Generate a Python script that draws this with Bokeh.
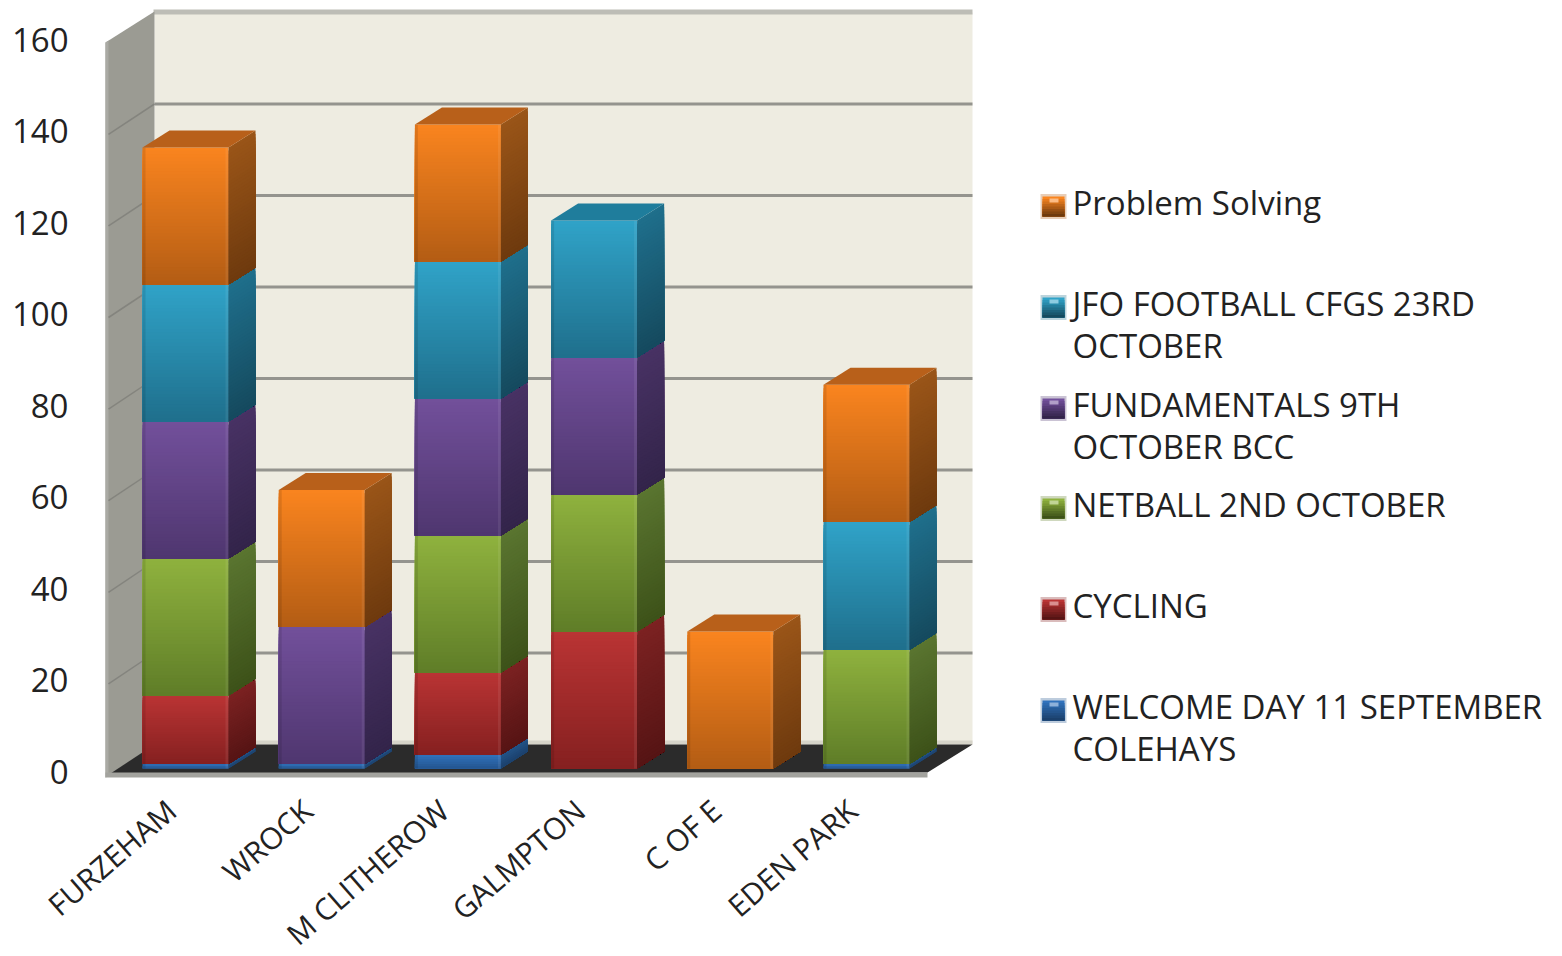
from bokeh.plotting import figure
from bokeh.models import Range1d, LinearAxis, FixedTicker
from bokeh.core.properties import value
from bokeh.embed import file_html
from bokeh.resources import INLINE
import math

categories = ["FURZEHAM", "WROCK", "M CLITHEROW", "GALMPTON", "C OF E", "EDEN PARK"]
welcome = [1, 1, 3, 0, 0, 1]
cycling = [15, 0, 18, 30, 0, 0]
netball = [30, 0, 30, 30, 0, 25]
fundamentals = [30, 30, 30, 30, 0, 0]
jfo = [30, 0, 30, 30, 0, 28]
problem = [30, 30, 30, 0, 30, 30]
y_ticks = [0, 20, 40, 60, 80, 100, 120, 140, 160]
series_names = ["WELCOME DAY 11 SEPTEMBER\nCOLEHAYS", "CYCLING", "NETBALL 2ND OCTOBER",
                "FUNDAMENTALS 9TH\nOCTOBER BCC", "JFO FOOTBALL CFGS 23RD\nOCTOBER", "Problem Solving"]
series_values = [welcome, cycling, netball, fundamentals, jfo, problem]
# (front top, front bottom, side top, side bottom, roof)
palette = [
    ("#3072bc", "#24558f", "#235488", "#1b406c", "#2a5f9c"),
    ("#ba3434", "#852020", "#7c2222", "#561414", "#8a2424"),
    ("#8fb23e", "#5f7d28", "#5a7530", "#3d5219", "#6a8a2c"),
    ("#72509b", "#4f366f", "#483264", "#33244a", "#553a78"),
    ("#30a3c8", "#1f6f8c", "#1f6f8c", "#154a5e", "#1f7d9c"),
    ("#fa851f", "#b35c14", "#9a5518", "#6e3a0e", "#b8601a"),
]

# Layout constants (reference pixels)
PX0, PXU = 185.0, 136.2     # category 0 centre, pixels per category
PY0, PYU = 768.0, 4.567     # value 0 baseline, pixels per value unit
BAR_W, DX, DY = 86, 27, 17  # bar front width and depth
FONT = value("Open Sans")
TEXT = "#222222"
FSIZE = "33px"

def X(px):
    return (px - PX0) / PXU

def Y(py):
    return (PY0 - py) / PYU

FL, FT, FB, FR = 100, 8, 780, 1562
p = figure(frame_width=FR - FL, frame_height=FB - FT, min_border_left=FL, min_border_top=FT,
           min_border_right=0, min_border_bottom=176, output_backend="svg", toolbar_location=None,
           tools="", x_range=Range1d(X(FL), X(FR)), y_range=Range1d(Y(FB), Y(FT)),
           y_axis_location=None, x_axis_location=None)
p.outline_line_color = None
p.grid.visible = False
p.background_fill_color = "white"

def poly(pts, color):
    p.patch([X(a) for a, b in pts], [Y(b) for a, b in pts], fill_color=color, line_color=None)

def hexrgb(c):
    return tuple(int(c[i:i + 2], 16) for i in (1, 3, 5))

def mix(c1, c2, t):
    a, b = hexrgb(c1), hexrgb(c2)
    return "#%02x%02x%02x" % tuple(round(a[i] + (b[i] - a[i]) * t) for i in range(3))

# Walls and floor
poly([(154, 12), (972, 12), (972, 744), (154, 744)], "#eeece1")
poly([(153, 9), (972, 9), (972, 14), (153, 14)], "#bdbdb6")
poly([(154, 740), (972, 740), (972, 744), (154, 744)], "#d6d4c9")
poly([(105, 42), (154, 11), (154, 745), (105, 777)], "#9b9b93")
poly([(105, 42), (108, 40), (108, 776), (105, 777)], "#aaaaa4")
for t in y_ticks[1:-1]:
    yb = 744 - t * 4.575
    yf = 775 - t * 4.58
    p.line([X(154), X(972)], [Y(yb), Y(yb)], line_color="#94948e", line_width=3)
    p.line([X(108), X(154)], [Y(yf), Y(yb)], line_color="#84847e", line_width=1.5)
poly([(110, 773), (154, 744), (972, 744), (927, 772)], "#2b2b2b")
poly([(105, 772), (927, 772), (927, 777), (105, 777)], "#a3a39e")

# Stacked 3D bars
for i, cat in enumerate(categories):
    cx = PX0 + i * PXU
    xl, xr = cx - BAR_W / 2, cx + BAR_W / 2
    base = 0
    top_color = None
    for s, vals in enumerate(series_values):
        v = vals[i]
        if v == 0:
            continue
        ft, fb, st, sb, roof = palette[s]
        n = max(2, min(40, 2 * v))
        for k in range(n):
            # each slice runs down to the segment's base; the next one paints over it
            t = k / n
            v_hi = base + v * (1 - t)
            front = mix(ft, fb, (k + 0.5) / n)
            side = mix(st, sb, (k + 0.5) / n)
            p.quad(left=X(xl), right=X(xr), bottom=base, top=v_hi, fill_color=front, line_color=None)
            p.patch([X(xr), X(xr + DX), X(xr + DX), X(xr)],
                    [base, base + DY / PYU, v_hi + DY / PYU, v_hi],
                    fill_color=side, line_color=None)
        base += v
        top_color = roof
    p.quad(left=X(xl), right=X(xl + 3), bottom=0, top=base, fill_color="black", fill_alpha=0.10, line_color=None)
    p.quad(left=X(xr - 3), right=X(xr), bottom=0, top=base, fill_color="white", fill_alpha=0.07, line_color=None)
    p.patch([X(xl), X(xl + DX), X(xr + DX), X(xr)],
            [base, base + DY / PYU, base + DY / PYU, base],
            fill_color=top_color, line_color=None)

# Legend
rows = [706, 605, 504, 404, 303, 202]
for s, name in enumerate(series_names):
    row = rows[s]
    ft, fb, st, sb, roof = palette[s]
    sy = row + 4
    p.quad(left=X(1040), right=X(1066), bottom=Y(sy + 12.5), top=Y(sy - 12.5),
           fill_color=mix(fb, "#ffffff", 0.7), line_color=None)
    for k in range(8):
        c = mix(ft, sb, k / 7)
        p.quad(left=X(1042), right=X(1064), bottom=Y(sy + 10), top=Y(sy - 10 + k * 2.5),
               fill_color=c, line_color=None)
    p.quad(left=X(1049), right=X(1058), bottom=Y(sy - 4), top=Y(sy - 8),
           fill_color=mix(ft, "#ffffff", 0.45), line_color=None)
    for j, line in enumerate(name.split("\n")):
        p.text([X(1072)], [Y(row + j * 42)], text=[line], text_font=FONT, text_font_size=FSIZE,
               text_color=TEXT, text_baseline="middle", text_align="left")

# Axes
p.extra_y_ranges = {"front": Range1d((771 - FB) / 4.572, (771 - FT) / 4.572)}
yaxis = LinearAxis(y_range_name="front", ticker=FixedTicker(ticks=y_ticks))
yaxis.axis_line_color = None
yaxis.major_tick_line_color = None
yaxis.minor_tick_line_color = None
yaxis.major_label_standoff = 26
yaxis.major_label_text_font = "Open Sans"
yaxis.major_label_text_font_size = FSIZE
yaxis.major_label_text_color = TEXT
p.add_layout(yaxis, "left")

LABEL_SHIFT = 14 / PXU
p.extra_x_ranges = {"labels": Range1d(X(FL) + LABEL_SHIFT, X(FR) + LABEL_SHIFT)}
xa = LinearAxis(x_range_name="labels", ticker=FixedTicker(ticks=list(range(len(categories)))))
xa.major_label_overrides = {i: c for i, c in enumerate(categories)}
xa.major_label_orientation = math.radians(41)
xa.axis_line_color = None
xa.major_tick_line_color = None
xa.minor_tick_line_color = None
xa.major_label_standoff = 19
xa.major_label_text_font = "Open Sans"
xa.major_label_text_font_size = "30px"
xa.major_label_text_color = TEXT
p.add_layout(xa, "below")

open("out.html", "w").write(file_html(p, INLINE))
